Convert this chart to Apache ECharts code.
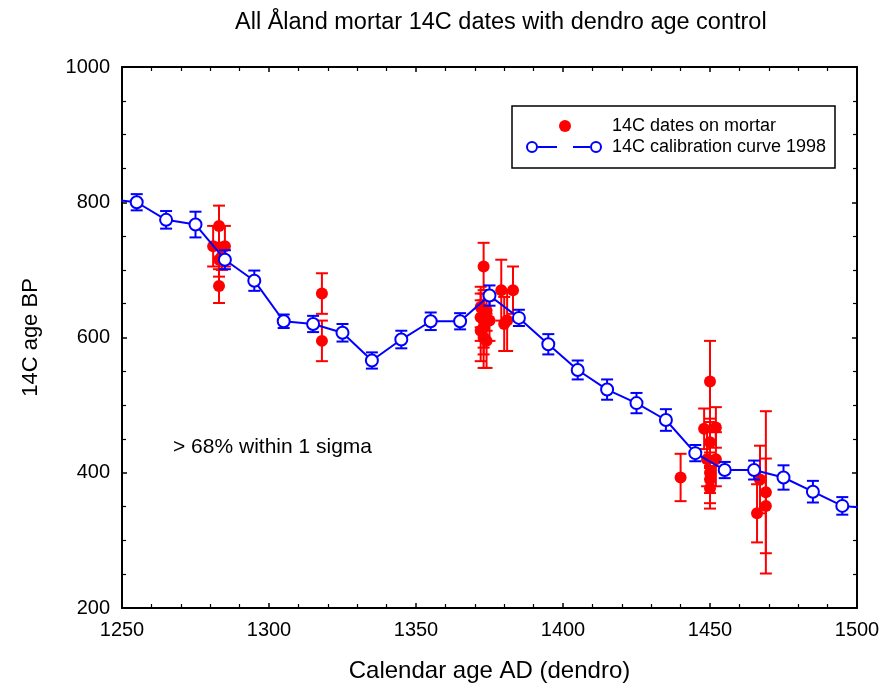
<!DOCTYPE html>
<html><head><meta charset="utf-8">
<script src="https://cdn.jsdelivr.net/npm/echarts@6/dist/echarts.min.js"></script>
<style>html,body{margin:0;padding:0;background:#fff}#c{width:883px;height:688px}</style>
</head><body><div id="c"></div>
<script>
// Calibration curve 1998: year, 14C age, +/- error
var calYears = [1245,1255,1265,1275,1285,1295,1305,1315,1325,1335,1345,1355,1365,1375,1385,1395,1405,1415,1425,1435,1445,1455,1465,1475,1485,1495,1505];
var calAges  = [ 805, 800, 774, 767, 715, 684, 624, 620, 607, 566, 597, 624, 624, 662, 629, 590, 552, 523, 503, 478, 429, 404, 404, 393, 372, 351, 347];
var calErr   = [   0,  12,  13,  19,  14,  15,  10,  12,  13,  12,  13,  13,  12,  15,  12,  15,  14,  15,  15,  16,  12,  12,  14,  18,  16,  13,   0];
// 14C dates on mortar: dendro year, 14C age, +/- 1 sigma
var morYears = [1283,1281,1285,1283,1284,1283, 1318,1318, 1373,1372,1374,1372,1373,1375,1373,1372,1373,1374,1379,1383,1381,1380, 1440, 1448,1452,1450,1450,1449,1452,1450,1450,1450, 1466,1467,1469,1469];
var morAges  = [ 765, 735, 735, 715, 720, 676,  665, 595,  705, 645, 640, 630, 625, 625, 615, 610, 600, 595, 670, 670, 625, 620,  393,  465, 467, 535, 445, 420, 420, 400, 390, 377,  340, 390, 371, 351];
var morErr   = [  30,  30,  30,  25,  20,  25,   30,  30,   35,  30,  30,  35,  40,  30,  40,  45,  45,  40,  45,  35,  45,  40,   35,   30,  30,  60,  35,  40,  40,  30,  35,  30,   43,  50, 120,  70];
var xTicks = [1250,1300,1350,1400,1450,1500];
var yTicks = [200,400,600,800,1000];

var FONT = 'Liberation Sans, Arial, sans-serif';
var calLine = calYears.map(function(y,i){return [y, calAges[i]];});
var calBars = [];
calYears.forEach(function(y,i){ if(calErr[i]>0) calBars.push([y, calAges[i]-calErr[i], calAges[i]+calErr[i]]); });
var morPts = morYears.map(function(y,i){return [y, morAges[i]];});
var morBars = morYears.map(function(y,i){return [y, morAges[i]-morErr[i], morAges[i]+morErr[i]];});

function errBar(color, cap){
  return function(params, api){
    var x = api.value(0);
    var lo = api.coord([x, api.value(1)]);
    var hi = api.coord([x, api.value(2)]);
    var st = {stroke: color, lineWidth: 2};
    return {type:'group', children:[
      {type:'line', shape:{x1:lo[0],y1:lo[1],x2:hi[0],y2:hi[1]}, style:st},
      {type:'line', shape:{x1:lo[0]-cap,y1:lo[1],x2:lo[0]+cap,y2:lo[1]}, style:st},
      {type:'line', shape:{x1:hi[0]-cap,y1:hi[1],x2:hi[0]+cap,y2:hi[1]}, style:st}
    ]};
  };
}

var aLine = {show:true, onZero:false, lineStyle:{color:'#000', width:2}};
var aTick = {show:true, inside:true, length:5, lineStyle:{color:'#000', width:1.5}};
function minor(n){ return {show:true, splitNumber:n, length:4, lineStyle:{color:'#000', width:1.2}}; }

var chart = echarts.init(document.getElementById('c'));
chart.setOption({
  animation:false,
  backgroundColor:'#fff',
  title:{text:'All Åland mortar 14C dates with dendro age control', left:230, top:6,
    textStyle:{fontFamily:FONT, fontSize:23.5, fontWeight:'normal', color:'#000'}},
  grid:{left:122, right:26, top:67, bottom:78},
  xAxis:[
    {type:'value', min:1250, max:1500, interval:50, position:'bottom',
      name:'Calendar age AD (dendro)', nameLocation:'middle', nameGap:51,
      nameTextStyle:{fontFamily:FONT, fontSize:24, color:'#000'},
      axisLine:aLine, axisTick:aTick, minorTick:minor(5), splitLine:{show:false},
      axisLabel:{fontFamily:FONT, fontSize:20, color:'#000', margin:12,
        formatter:function(v){return xTicks.indexOf(v)>=0 ? String(v) : '';}}},
    {type:'value', min:1250, max:1500, interval:50, position:'top',
      axisLine:aLine, axisTick:aTick, minorTick:minor(5), splitLine:{show:false},
      axisLabel:{show:false}}
  ],
  yAxis:[
    {type:'value', min:200, max:1000, interval:200, position:'left',
      name:'14C age BP', nameLocation:'middle', nameGap:80, nameRotate:90,
      nameTextStyle:{fontFamily:FONT, fontSize:22, color:'#000'},
      axisLine:aLine, axisTick:aTick, minorTick:minor(4), splitLine:{show:false},
      axisLabel:{fontFamily:FONT, fontSize:20, color:'#000', margin:12,
        formatter:function(v){return yTicks.indexOf(v)>=0 ? String(v) : '';}}},
    {type:'value', min:200, max:1000, interval:200, position:'right',
      axisLine:aLine, axisTick:aTick, minorTick:minor(4), splitLine:{show:false},
      axisLabel:{show:false}}
  ],
  series:[
    {type:'custom', name:'mortarErr', xAxisIndex:0, yAxisIndex:0, data:morBars,
      renderItem:errBar('#ff0000', 6), clip:true, z:2, silent:true},
    {type:'scatter', name:'14C dates on mortar', data:morPts, symbol:'circle', symbolSize:12,
      itemStyle:{color:'#ff0000', opacity:1}, z:3},
    {type:'custom', name:'calErr', data:calBars, renderItem:errBar('#0000ff', 6), clip:true, z:4, silent:true},
    {type:'line', name:'14C calibration curve 1998', data:calLine, clip:true, z:5,
      symbol:'circle', symbolSize:12, showAllSymbol:true,
      lineStyle:{color:'#0000ff', width:2},
      itemStyle:{color:'#ffffff', borderColor:'#0000ff', borderWidth:2}}
  ],
  graphic:[
    {type:'rect', shape:{x:512, y:106, width:323, height:62}, style:{fill:'#fff', stroke:'#000', lineWidth:1.5}, z:100},
    {type:'circle', shape:{cx:565, cy:126, r:6}, style:{fill:'#ff0000'}, z:101},
    {type:'line', shape:{x1:538, y1:147, x2:557, y2:147}, style:{stroke:'#0000ff', lineWidth:2}, z:101},
    {type:'line', shape:{x1:573, y1:147, x2:590, y2:147}, style:{stroke:'#0000ff', lineWidth:2}, z:101},
    {type:'circle', shape:{cx:532, cy:147, r:5}, style:{fill:'#fff', stroke:'#0000ff', lineWidth:2}, z:101},
    {type:'circle', shape:{cx:596, cy:147, r:5}, style:{fill:'#fff', stroke:'#0000ff', lineWidth:2}, z:101},
    {type:'text', x:612, y:126, style:{text:'14C dates on mortar', font:'18px '+FONT, fill:'#000', textVerticalAlign:'middle'}, z:101},
    {type:'text', x:612, y:147, style:{text:'14C calibration curve 1998', font:'18px '+FONT, fill:'#000', textVerticalAlign:'middle'}, z:101},
    {type:'text', x:173, y:447, style:{text:'> 68% within 1 sigma', font:'21px '+FONT, fill:'#000', textVerticalAlign:'middle'}, z:101}
  ]
});
</script></body></html>
